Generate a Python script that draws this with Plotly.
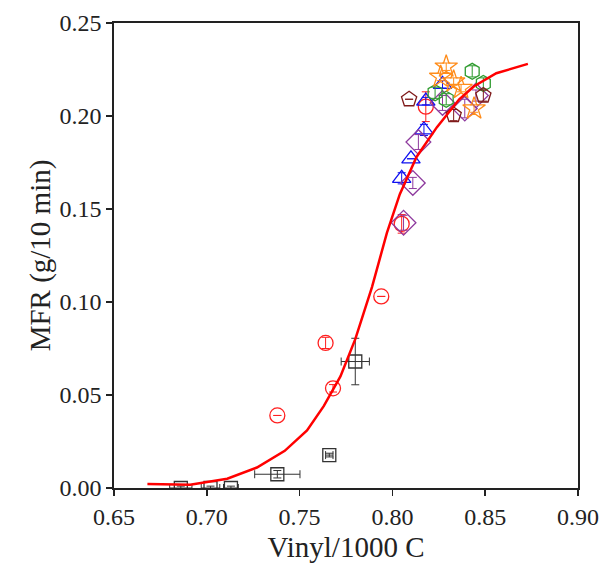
import plotly.graph_objects as go

# Fitted curve
curve_x = [0.668, 0.691, 0.711, 0.727, 0.742, 0.754, 0.763, 0.772, 0.780, 0.789,
           0.797, 0.804, 0.813, 0.824, 0.836, 0.844, 0.856, 0.873]
curve_y = [0.0022, 0.0018, 0.005, 0.011, 0.020, 0.031, 0.044, 0.060, 0.080, 0.108,
           0.137, 0.158, 0.178, 0.194, 0.209, 0.216, 0.223, 0.228]

# Series: black squares
sq_x = [0.686, 0.702, 0.713, 0.738, 0.766, 0.780]
sq_y = [0.000, 0.000, 0.000, 0.0074, 0.0177, 0.068]
sq_xerr = [0.006, 0.005, 0.004, 0.0122, 0.002, 0.0076]
sq_yerr = [0.001, 0.001, 0.001, 0.002, 0.001, 0.0125]

# Red circles
ci_x = [0.738, 0.764, 0.768, 0.794, 0.805, 0.818]
ci_y = [0.039, 0.078, 0.0536, 0.103, 0.142, 0.205]
ci_yerr = [0.0, 0.003, 0.002, 0.0, 0.005, 0.008]

# Blue triangles
tr_x = [0.805, 0.810, 0.817, 0.818, 0.827]
tr_y = [0.1665, 0.177, 0.1925, 0.208, 0.217]
tr_yerr = [0.003, 0.0, 0.003, 0.002, 0.002]

# Purple diamonds
di_x = [0.806, 0.811, 0.814, 0.827, 0.839, 0.845]
di_y = [0.1426, 0.164, 0.186, 0.207, 0.204, 0.211]
di_yerr = [0.004, 0.003, 0.004, 0.004, 0.005, 0.003]

# Green hexagons
hx_x = [0.823, 0.829, 0.843, 0.849]
hx_y = [0.2125, 0.209, 0.224, 0.2175]
hx_yerr = [0.003, 0.003, 0.003, 0.003]

# Orange stars
st_x = [0.826, 0.829, 0.833, 0.837, 0.844]
st_y = [0.221, 0.2265, 0.2185, 0.215, 0.204]
st_yerr = [0.002, 0.002, 0.002, 0.002, 0.002]

# Maroon pentagons
pe_x = [0.809, 0.833, 0.849]
pe_y = [0.209, 0.2005, 0.211]
pe_yerr = [0.0, 0.003, 0.003]

FONT = "Liberation Serif, Times New Roman, serif"

fig = go.Figure()

def add_series(x, y, yerr, color, symbol, size, xerr=None):
    kw = dict(
        x=x, y=y, mode="markers",
        marker=dict(symbol=symbol, size=size, color=color,
                    line=dict(color=color, width=1.3)),
        error_y=dict(type="data", array=yerr, visible=True, color=color,
                     thickness=1, width=4),
        showlegend=False, hoverinfo="skip",
    )
    if xerr is not None:
        kw["error_x"] = dict(type="data", array=xerr, visible=True, color=color,
                             thickness=1, width=4)
    fig.add_trace(go.Scatter(**kw))

add_series(sq_x, sq_y, sq_yerr, "#333333", "square-open", 13, xerr=sq_xerr)
add_series(ci_x, ci_y, ci_yerr, "#FF2020", "circle-open", 15)
add_series(tr_x, tr_y, tr_yerr, "#1010F0", "triangle-up-open", 16)
add_series(di_x, di_y, di_yerr, "#8E3A9E", "diamond-open", 19)
add_series(hx_x, hx_y, hx_yerr, "#2E9B2E", "hexagon-open", 16)
add_series(st_x, st_y, st_yerr, "#FF8C1A", "star-open", 17)
add_series(pe_x, pe_y, pe_yerr, "#7F1A1A", "pentagon-open", 16)

fig.add_trace(go.Scatter(x=curve_x, y=curve_y, mode="lines",
                         line=dict(color="#FF0000", width=2.5),
                         showlegend=False, hoverinfo="skip"))

axis_common = dict(
    showline=True, linecolor="#222222", linewidth=1.8, mirror=True,
    ticks="outside", ticklen=6, tickwidth=1.5, tickcolor="#222222",
    showgrid=False, zeroline=False, automargin=False,
    ticklabeloverflow="allow",
    tickfont=dict(family=FONT, size=24, color="#222222"),
)

fig.update_layout(
    width=600, height=570,
    margin=dict(l=114, r=22, t=23, b=82),
    paper_bgcolor="white", plot_bgcolor="white",
    xaxis=dict(range=[0.65, 0.90], tickvals=[0.65, 0.70, 0.75, 0.80, 0.85, 0.90],
               ticktext=["0.65", "0.70", "0.75", "0.80", "0.85", "0.90"],
               title=dict(text="Vinyl/1000 C", font=dict(family=FONT, size=29, color="#222222"),
                          standoff=8),
               **axis_common),
    yaxis=dict(range=[0.0, 0.25], tickvals=[0.0, 0.05, 0.10, 0.15, 0.20, 0.25],
               ticktext=["0.00", "0.05", "0.10", "0.15", "0.20", "0.25"],
               title=dict(text="MFR (g/10 min)", font=dict(family=FONT, size=29, color="#222222"),
                          standoff=0),
               **axis_common),
)

fig.write_html(
    "out.html",
    config={"displayModeBar": False, "staticPlot": True},
    post_script="document.body.style.margin='0';document.body.style.overflow='hidden';",
)
